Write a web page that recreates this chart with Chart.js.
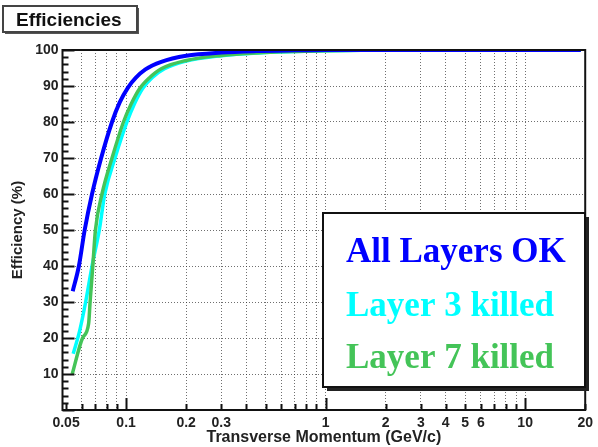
<!DOCTYPE html>
<html>
<head>
<meta charset="utf-8">
<title>Efficiencies</title>
<script src="https://cdn.jsdelivr.net/npm/chart.js@4.4.0/dist/chart.umd.min.js"></script>
<style>
  html, body { margin: 0; padding: 0; background: #fff; }
  #wrap { width: 598px; height: 447px; position: relative; }
</style>
</head>
<body>
<div id="wrap"><canvas id="effChart"></canvas></div>
<script>
// Tracking efficiency vs transverse momentum for three layer configurations

const seriesNames = ['All Layers OK', 'Layer 3 killed', 'Layer 7 killed'];
const seriesColors = ['#0000ff', '#00ffff', '#44c458'];

// All layers OK (blue)
const ptAllOk  = [0.054, 0.058, 0.062, 0.0675, 0.075, 0.085, 0.093, 0.102, 0.112, 0.125, 0.15, 0.2, 0.3, 0.45, 0.7, 1, 19];
const effAllOk = [33, 40, 50, 60, 70, 80, 85.5, 89.5, 92.3, 94.6, 96.7, 98.4, 99.3, 99.7, 99.9, 100, 100];

// Layer 3 killed (cyan)
const ptL3  = [0.0543, 0.0585, 0.0627, 0.0675, 0.0734, 0.0782, 0.088, 0.101, 0.11, 0.121, 0.135, 0.155, 0.2, 0.3, 0.45, 0.7, 1, 2, 19];
const effL3 = [15.6, 22, 30, 40, 50, 60, 70, 80, 85, 89.3, 92.3, 94.7, 96.9, 98.4, 99.2, 99.6, 99.8, 100, 100];

// Layer 7 killed (green)
const ptL7  = [0.0537, 0.0605, 0.0649, 0.066, 0.0681, 0.0702, 0.0757, 0.085, 0.097, 0.106, 0.117, 0.131, 0.15, 0.2, 0.3, 0.45, 0.7, 1, 2, 19];
const effL7 = [10, 20, 24, 30, 40, 50, 60, 70, 80, 85, 89.3, 92.3, 94.8, 97.1, 98.5, 99.2, 99.6, 99.8, 100, 100];

// axes
const xMin = 0.048, xMax = 20;
const xTickValues = [0.05, 0.06, 0.07, 0.08, 0.09, 0.1, 0.2, 0.3, 0.4, 0.5, 0.6, 0.7, 0.8, 0.9,
                     1, 2, 3, 4, 5, 6, 7, 8, 9, 10, 20];
const xTickLabels = [0.05, 0.1, 0.2, 0.3, 1, 2, 3, 4, 5, 6, 10, 20];
const xMajorTicks = [0.1, 1, 10];
const yMin = 0, yMax = 100, yStep = 10, yMinorStep = 2;

const titleText = 'Efficiencies';
const xTitle = 'Transverse Momentum (GeV/c)';
const yTitle = 'Efficiency (%)';

function toPoints(xs, ys) {
    return xs.map((x, i) => ({ x: x, y: ys[i] }));
}

const axisFont = { family: 'Liberation Sans', size: 14, weight: 'bold' };
const gridColor = 'rgba(50,50,50,0.7)';

// frame, inner tick marks, title box and legend box (ROOT style)
const decorPlugin = {
    id: 'decor',
    afterDraw(chart) {
        const ctx = chart.ctx;
        const area = chart.chartArea;
        const xs = chart.scales.x, ys = chart.scales.y;
        ctx.save();

        // tick marks inside the frame
        ctx.strokeStyle = '#111';
        ctx.lineWidth = 2;
        ctx.beginPath();
        for (let v = yMin; v <= yMax; v += yMinorStep) {
            const py = Math.round(ys.getPixelForValue(v)) + 0.5;
            const len = (v % yStep === 0) ? 12 : 6;
            ctx.moveTo(area.left, py);
            ctx.lineTo(area.left + len, py);
        }
        xTickValues.forEach(v => {
            const px = Math.round(xs.getPixelForValue(v)) + 0.5;
            const len = xMajorTicks.includes(v) ? 12 : 6;
            ctx.moveTo(px, area.bottom);
            ctx.lineTo(px, area.bottom - len);
        });
        ctx.stroke();

        // frame
        ctx.lineWidth = 2;
        ctx.strokeStyle = '#111';
        ctx.strokeRect(area.left, area.top, area.right - area.left, area.bottom - area.top);

        // legend box with shadow
        const lx = 323, ly = 213, lw = 262, lh = 174;
        ctx.fillStyle = '#222';
        ctx.fillRect(lx + 4, ly + 4, lw, lh);
        ctx.fillStyle = '#fff';
        ctx.fillRect(lx, ly, lw, lh);
        ctx.strokeStyle = '#111';
        ctx.lineWidth = 2;
        ctx.strokeRect(lx, ly, lw, lh);
        ctx.font = 'bold 35px "Liberation Serif"';
        ctx.textBaseline = 'alphabetic';
        ctx.textAlign = 'left';
        const baselines = [262, 316, 368];
        chart.data.datasets.forEach((ds, i) => {
            ctx.fillStyle = ds.borderColor;
            ctx.fillText(ds.label, 346, baselines[i]);
        });

        // title box
        ctx.fillStyle = '#555';
        ctx.fillRect(5, 8, 134, 26);
        ctx.fillStyle = '#fff';
        ctx.fillRect(3, 6, 134, 26);
        ctx.strokeStyle = '#444';
        ctx.lineWidth = 2;
        ctx.strokeRect(3, 6, 134, 26);
        ctx.fillStyle = '#111';
        ctx.font = 'bold 19px "Liberation Sans"';
        ctx.fillText(titleText, 16, 26);

        ctx.restore();
    }
};

const datasets = [
    { label: seriesNames[0], data: toPoints(ptAllOk, effAllOk), borderColor: seriesColors[0], borderWidth: 4, order: 0 },
    { label: seriesNames[1], data: toPoints(ptL3, effL3), borderColor: seriesColors[1], borderWidth: 3.5, order: 2 },
    { label: seriesNames[2], data: toPoints(ptL7, effL7), borderColor: seriesColors[2], borderWidth: 3.5, order: 1 }
].map(d => Object.assign(d, {
    showLine: true,
    fill: false,
    pointRadius: 0,
    cubicInterpolationMode: 'monotone',
    backgroundColor: d.borderColor
}));

const chart = new Chart(document.getElementById('effChart'), {
    type: 'scatter',
    data: { datasets: datasets },
    plugins: [decorPlugin],
    options: {
        responsive: true,
        maintainAspectRatio: false,
        devicePixelRatio: 1,
        animation: false,
        layout: { padding: { top: 50, right: 10, left: 0, bottom: 0 } },
        plugins: {
            legend: { display: false },
            tooltip: { enabled: false }
        },
        scales: {
            x: {
                type: 'logarithmic',
                min: xMin,
                max: xMax,
                afterBuildTicks(scale) {
                    scale.ticks = xTickValues.map(v => ({ value: v }));
                },
                afterFit(scale) { scale.height = 37; },
                ticks: {
                    autoSkip: false,
                    maxRotation: 0,
                    padding: 5,
                    color: '#222',
                    font: axisFont,
                    callback: (v) => xTickLabels.includes(v) ? String(v) : ''
                },
                grid: {
                    drawTicks: false,
                    lineWidth: 1,
                    color: (c) => (c.tick && (c.tick.value === 0.05 || c.tick.value === 20)) ? 'rgba(0,0,0,0)' : gridColor
                },
                border: { display: false, dash: [1, 2] },
                title: {
                    display: true,
                    text: xTitle,
                    color: '#222',
                    font: { family: 'Liberation Sans', size: 16, weight: 'bold' },
                    padding: { top: 0, bottom: 0 }
                }
            },
            y: {
                min: yMin,
                max: yMax,
                afterFit(scale) { scale.width = 62.5; },
                ticks: {
                    stepSize: yStep,
                    padding: 4,
                    color: '#222',
                    font: axisFont,
                    callback: (v) => v === 0 ? '' : String(v)
                },
                grid: {
                    drawTicks: false,
                    lineWidth: 1,
                    color: (c) => (c.tick && (c.tick.value === 0 || c.tick.value === 100)) ? 'rgba(0,0,0,0)' : gridColor
                },
                border: { display: false, dash: [1, 2] },
                title: {
                    display: true,
                    text: yTitle,
                    color: '#222',
                    font: { family: 'Liberation Sans', size: 15, weight: 'bold' },
                    padding: { top: 9, bottom: 0 }
                }
            }
        }
    }
});
</script>
</body>
</html>
